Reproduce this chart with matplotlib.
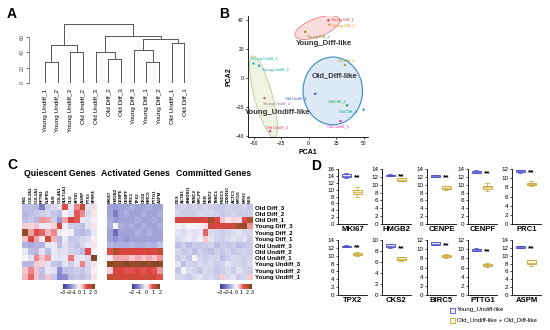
import matplotlib
matplotlib.use("Agg")
import matplotlib.pyplot as plt
import numpy as np
from matplotlib.colors import LinearSegmentedColormap
from matplotlib.patches import Ellipse, Rectangle

plt.rcParams["font.family"] = ["Liberation Sans", "DejaVu Sans"]

W, H = 550, 330

# ---------------- data ----------------
LEAVES = ["Young Undiff_1", "Young Undiff_2", "Young Undiff_3", "Old Undiff_2",
          "Old Undiff_3", "Old Diff_2", "Old Diff_3", "Young Diff_3",
          "Young Diff_1", "Young Diff_2", "Old Undiff_1", "Old Diff_1"]
# (child a, child b, height); ids >= 12 are earlier merges
MERGES = [(0, 1, 28), (2, 3, 41), (12, 13, 50), (5, 6, 31), (4, 15, 40),
          (8, 9, 28), (7, 17, 43), (10, 11, 53), (18, 19, 58), (16, 20, 62),
          (14, 21, 78)]

PCA_NAMES = ["Young Diff_1", "Young Diff_2", "Young Diff_3", "Young Undiff_1",
             "Young Undiff_2", "Young Undiff_3", "Old Undiff_2", "Old Undiff_1",
             "Old Diff_1", "Old Diff_2", "Old Diff_3", "Old Undiff_3"]
PCA1 = [18, 19, -3, -50, -45, -40, -35, 6, 33, 35, 50, 29]
PCA2 = [40, 37, 32, 10, 8.5, -14, -37, -11, 9, -19, -22, -30]
PCA_COLORS = ["#e03030", "#e88a20", "#7f8a20", "#10b8b0", "#10a0c8", "#a07088",
              "#d84060", "#3a64c0", "#a8a030", "#20a048", "#10a890", "#d838a8"]
LABEL_OFFSETS = [(2, 0), (2, -1), (1, -4), (-2, 3), (2, -3), (-1, -4),
                 (-3, 3), (-22, -3), (-6, 3), (-14, 3), (-18, -1), (-10, -4)]

ROWS = ["Old Diff_3", "Old Diff_2", "Old Diff_1", "Young Diff_3", "Young Diff_2",
        "Young Diff_1", "Old Undiff_3", "Old Undiff_2", "Old Undiff_1",
        "Young Undiff_3", "Young Undiff_2", "Young Undiff_1"]
QUIESCENT = ["FN1", "COL3A1", "COL1A1", "RPTN1", "NUPR1", "ELN", "COL4A1",
             "SULT1A1", "CLU", "APOD", "AGRP", "PTX3", "SFRP4"]
ACTIVATED = ["MKI67", "HMGB2", "CENPE", "CENPF", "PRC1", "TPX2", "CKS2",
             "BIRC5", "PTTG1", "ASPM"]
COMMITTED = ["DES", "ACTA1", "ANKRD1", "TNNC2", "MYLPF", "NEB", "TNNT2",
             "TNNC1", "FNDC5", "CDKN1C", "ACTC1", "MYOG", "MYH3", "NES"]

Q_VALS = np.array([
    [-0.8, -0.8, -0.9, -1.8, -0.6, -0.4, -0.2, 1.4, -0.2, 1.0, 2.0, -0.3, 0.3],
    [-0.9, -0.8, -0.7, -0.6, -0.5, -0.7, -0.8, 0.0, -0.3, 1.3, 1.0, -0.4, 0.2],
    [-0.8, -0.7, -0.9, 0.9, 0.8, -0.6, -1.3, 0.8, 1.6, 1.3, -0.2, -0.3, 0.1],
    [0.5, 0.4, 0.6, -0.2, 0.2, 0.4, 1.8, -0.1, -0.6, -0.7, -0.8, -0.3, 0.2],
    [2.6, 0.8, 1.4, 1.2, 0.7, 1.0, -0.2, 0.0, -0.1, -0.8, -0.9, -0.7, -0.2],
    [0.6, 1.6, 0.8, 0.1, 1.8, 0.7, -0.9, -0.2, -0.7, -0.6, -0.5, -0.4, 0.1],
    [-1.0, -1.1, -0.9, -1.0, -0.3, -0.2, -0.8, -0.3, -0.6, -0.7, -0.4, -0.2, 0.2],
    [-0.2, -0.8, -0.9, -0.3, -0.8, -0.2, -0.4, -0.3, -0.5, -0.6, -0.8, 1.4, 0.0],
    [0.0, -0.3, 1.0, 0.6, 0.9, -0.2, -0.3, -0.2, 1.1, -0.3, -0.2, -0.4, 2.8],
    [-0.9, -0.9, 0.5, 0.4, -0.3, -0.7, -0.8, -0.3, -0.6, -0.3, 1.0, -0.4, 0.2],
    [0.6, 1.0, 0.6, -0.8, -0.2, -0.3, -1.5, -0.8, -0.7, -0.6, -0.7, -0.5, 0.1],
    [0.7, 1.2, 0.6, -0.8, 0.6, -0.7, -1.6, -1.5, -0.8, -0.7, -0.8, -0.6, 0.2],
])
A_VALS = np.array([
    [-0.8, -0.9, -0.8, -0.8, -0.7, -0.8, -0.8, -0.7, -0.8, -0.8],
    [-0.8, -1.2, -0.8, -0.7, -0.8, -0.8, -0.7, -0.8, -0.8, -0.7],
    [-0.7, -0.9, -0.8, -0.8, -0.8, -0.7, -0.8, -0.8, -0.7, -0.8],
    [-0.7, 0.0, -0.7, -0.8, -0.7, -0.8, -0.7, -0.8, -0.8, -0.7],
    [-0.8, -1.4, -0.8, -0.8, -0.8, -0.7, -0.8, -0.7, -0.8, -0.8],
    [-0.8, -1.0, -0.8, -0.9, -0.8, -0.8, -0.8, -0.8, -0.8, -0.8],
    [-0.6, -0.7, -0.7, -0.7, -0.6, -0.7, -0.7, -0.6, -0.7, -0.5],
    [0.9, 1.5, 1.1, 1.0, 1.1, 1.0, 1.0, 1.1, 1.0, 1.3],
    [0.1, 0.5, 0.5, 0.5, 0.4, 0.5, 0.4, 0.5, 0.4, 0.6],
    [1.8, 1.7, 1.7, 1.8, 1.7, 1.7, 1.8, 1.7, 1.8, 1.8],
    [0.3, 1.0, 1.0, 0.9, 0.9, 1.0, 0.9, 1.0, 0.9, 0.6],
    [1.3, 1.2, 1.1, 1.1, 1.2, 1.1, 1.1, 1.2, 1.1, 0.9],
])
C_VALS = np.array([
    [-0.6, -0.5, -0.6, -0.5, -0.6, -0.5, -0.6, -0.7, -0.7, -0.5, -0.6, -0.6, -0.5, -0.7],
    [-0.5, -0.6, -0.6, -0.6, -0.5, -0.5, -0.5, -0.6, -0.7, -0.6, -0.5, -0.6, -0.6, -0.6],
    [1.6, 1.7, 1.7, 1.6, 1.7, 1.6, 2.4, 1.5, 0.6, 0.2, 0.4, 0.3, 1.4, 2.2],
    [-0.1, -0.2, 0.0, 0.0, -0.1, 0.3, 1.8, 1.6, 1.7, 1.7, 1.7, 2.4, 2.5, 0.9],
    [-0.3, -0.4, -0.2, -0.3, -0.2, 1.2, -0.4, -0.5, -0.6, -0.5, -0.4, -0.3, -0.4, -0.5],
    [-0.4, -0.3, -0.2, -0.3, -0.1, 0.6, -0.3, -0.5, -0.6, -0.4, -0.3, -0.4, -0.3, -0.6],
    [-0.8, -0.6, -0.8, -0.6, -0.7, -0.6, -0.5, -0.8, -0.6, -0.7, -0.6, -0.8, -0.7, -0.6],
    [-0.5, -0.7, -0.6, -0.8, -0.6, -0.7, -0.8, -0.6, -0.7, -0.5, -0.7, -0.6, -0.5, -0.6],
    [-0.6, -0.4, -0.7, 0.0, -0.5, -0.6, -0.5, -0.5, -0.8, -0.6, -0.4, -0.5, -0.6, -0.5],
    [-0.3, -0.8, -0.5, -0.6, -0.4, -0.5, -0.4, -0.6, -0.5, -0.3, -0.4, -0.5, -0.6, -0.4],
    [-0.7, 0.0, -0.4, -0.5, -0.7, -0.4, -0.5, -0.7, -0.6, -0.4, -0.6, -0.3, -0.5, -0.6],
    [-0.4, -0.5, -0.6, -0.4, -0.3, -0.5, -0.4, -0.6, 0.5, -0.4, -0.3, -0.6, -0.5, 0.5],
])

BOX_GENES = ["MKI67", "HMGB2", "CENPE", "CENPF", "PRC1",
             "TPX2", "CKS2", "BIRC5", "PTTG1", "ASPM"]
BOX_YMAX = [16, 14, 14, 14, 12, 14, 10, 12, 12, 14]
# whislo, q1, med, q3, whishi
YOUNG = [(13.3, 13.6, 14.0, 14.6, 14.9), (12.2, 12.3, 12.4, 12.6, 12.7),
         (11.9, 12.0, 12.2, 12.4, 12.5), (12.9, 13.0, 13.3, 13.6, 13.7),
         (11.2, 11.3, 11.5, 11.7, 11.8), (12.1, 12.2, 12.4, 12.6, 12.7),
         (8.6, 8.7, 8.9, 9.2, 9.3), (10.9, 11.0, 11.2, 11.5, 11.6),
         (9.5, 9.6, 9.8, 10.1, 10.2), (11.9, 12.0, 12.2, 12.4, 12.5)]
OLD = [(8.0, 8.6, 9.3, 10.0, 10.8), (10.9, 11.0, 11.3, 11.6, 11.7),
       (8.6, 8.8, 9.2, 9.6, 9.8), (8.4, 8.9, 9.3, 9.8, 10.4),
       (8.2, 8.5, 8.8, 9.0, 9.3), (9.9, 10.1, 10.4, 10.7, 10.9),
       (6.2, 6.4, 6.6, 6.9, 7.0), (8.1, 8.3, 8.5, 8.8, 8.9),
       (6.2, 6.4, 6.6, 6.8, 6.9), (7.5, 7.8, 8.2, 8.8, 9.0)]

BLUE, GOLD = "#4848c8", "#c8a030"


def rect(x0, y0, x1, y1):
    """pixel box (top-left origin) -> figure fraction rect"""
    return [x0 / W, 1 - y1 / H, (x1 - x0) / W, (y1 - y0) / H]


fig = plt.figure(figsize=(5.5, 3.3), dpi=100)
fig.patch.set_facecolor("white")

for lab, (px, py) in zip("ABCD", [(12, 14), (224, 14), (12, 165), (316, 166)]):
    fig.text(px / W, 1 - py / H, lab, fontsize=10, fontweight="bold",
             ha="center", va="center")

# ---------------- A: dendrogram ----------------
axA = fig.add_axes(rect(33, 22, 192, 83))
for s in ["top", "right", "bottom"]:
    axA.spines[s].set_visible(False)
axA.spines["left"].set_position(("outward", 3))
axA.spines["left"].set_bounds(0, 60)
axA.spines["left"].set_linewidth(0.5)
axA.spines["left"].set_color("#666666")
xs = {i: float(i) for i in range(len(LEAVES))}
hs = {i: 0.0 for i in range(len(LEAVES))}
for k, (a, b, h) in enumerate(MERGES):
    nid = len(LEAVES) + k
    for c in (a, b):
        axA.plot([xs[c], xs[c]], [hs[c], h], color="#555555", lw=0.7)
    axA.plot([xs[a], xs[b]], [h, h], color="#555555", lw=0.7)
    xs[nid] = (xs[a] + xs[b]) / 2
    hs[nid] = h
axA.set_xlim(-0.95, 11.6)
axA.set_ylim(0, 80)
axA.set_xticks(range(len(LEAVES)))
axA.set_xticklabels(LEAVES)
axA.tick_params(axis="x", length=0, pad=4, labelsize=4.6, labelrotation=90)
axA.set_yticks([0, 20, 40, 60])
axA.tick_params(axis="y", length=2, width=0.5, pad=1, labelsize=3.8,
                labelrotation=90, colors="#444444")
for t in axA.get_yticklabels():
    t.set_va("center")

# ---------------- B: PCA ----------------
axB = fig.add_axes(rect(248, 16, 368, 137))
axB.add_patch(Ellipse((8, 35), 42, 13, angle=15, facecolor="#f9dada",
                      edgecolor="#e07a7a", lw=0.6, alpha=0.9))
axB.add_patch(Ellipse((-41, -13), 16, 60, angle=20, facecolor="#eef3e2",
                      edgecolor="#b8cc90", lw=0.6))
axB.add_patch(Ellipse((22, -9), 54, 47, facecolor="#dde9f7",
                      edgecolor="#3a8cc0", lw=0.8))
axB.scatter(PCA1, PCA2, c=PCA_COLORS, s=3, zorder=3, linewidths=0)
for name, x, y, c, (dx, dy) in zip(PCA_NAMES, PCA1, PCA2, PCA_COLORS, LABEL_OFFSETS):
    axB.annotate(name, (x, y), xytext=(dx, dy), textcoords="offset points",
                 fontsize=2.9, color=c, va="center", ha="left")
axB.text(14, 24, "Young_Diff-like", fontsize=5.6, fontweight="bold", ha="center",
         va="center", color="#333333")
axB.text(24, 1.5, "Old_Diff-like", fontsize=5.6, fontweight="bold", ha="center",
         va="center", color="#333333")
axB.text(-28, -24, "Young_Undiff-like", fontsize=5.6, fontweight="bold",
         ha="center", va="center", color="#333333")
axB.set_xlim(-55, 54)
axB.set_ylim(-41, 43)
axB.set_xticks([-50, -25, 0, 25, 50])
axB.set_yticks([-40, -20, 0, 20, 40])
axB.tick_params(labelsize=3.5, length=1.5, width=0.5, pad=1.5)
axB.spines[["top", "right"]].set_visible(False)
for s in ["left", "bottom"]:
    axB.spines[s].set_linewidth(0.6)
axB.set_xlabel("PCA1", fontsize=5, fontweight="bold", labelpad=2)
axB.set_ylabel("PCA2", fontsize=5, fontweight="bold", labelpad=2)

# ---------------- C: heatmaps ----------------
cmap = LinearSegmentedColormap.from_list("hm", [
    (0.0, "#3a3a98"), (0.25, "#8e8ed2"), (0.42, "#d6d6ee"), (0.5, "#f8f5f9"),
    (0.6, "#f6c4cc"), (0.74, "#e04444"), (0.86, "#b85030"), (1.0, "#6e4420")])

heat = [
    ("Quiescent Genes", QUIESCENT, Q_VALS, 3, (22, 97), (63, 95)),
    ("Activated Genes", ACTIVATED, A_VALS, 2, (107, 163), (132, 160)),
    ("Committed Genes", COMMITTED, C_VALS, 3, (175, 253), (220, 252)),
]
for title, genes, vals, lim, (hx0, hx1), (cx0, cx1) in heat:
    ax = fig.add_axes(rect(hx0, 204, hx1, 280))
    im = ax.imshow(vals, cmap=cmap, vmin=-lim, vmax=lim, aspect="auto",
                   interpolation="nearest")
    ax.set_xticks(range(len(genes)))
    ax.set_xticklabels(genes, fontweight="bold")
    ax.xaxis.tick_top()
    ax.tick_params(axis="x", length=0, pad=1, labelsize=3.1, labelrotation=90)
    ax.set_yticks([])
    for s in ax.spines.values():
        s.set_visible(False)
    if title == "Committed Genes":
        ax.yaxis.tick_right()
        ax.set_yticks(range(len(ROWS)))
        ax.set_yticklabels(ROWS, fontweight="bold")
        ax.tick_params(axis="y", length=0, pad=1.5, labelsize=4.4)
    fig.text((hx0 + hx1) / 2 / W, 1 - 173 / H, title, fontsize=6.3,
             fontweight="bold", ha="center", va="center")
    cax = fig.add_axes(rect(cx0, 284, cx1, 289))
    cb = fig.colorbar(im, cax=cax, orientation="horizontal")
    cb.set_ticks(list(range(-lim, lim + 1)))
    cb.ax.tick_params(labelsize=3.8, length=0, pad=1)
    cb.outline.set_visible(False)

# ---------------- D: box plots ----------------
xcols = [338, 382, 427, 468, 512]
rows_y = [(169, 224), (240, 295)]
for i, gene in enumerate(BOX_GENES):
    r, c = divmod(i, 5)
    y0, y1 = rows_y[r]
    ax = fig.add_axes(rect(xcols[c], y0, xcols[c] + 29, y1))
    stats = []
    for lab, v in (("young", YOUNG[i]), ("old", OLD[i])):
        stats.append(dict(whislo=v[0], q1=v[1], med=v[2], q3=v[3], whishi=v[4],
                          label=lab))
    bp = ax.bxp(stats, positions=[1, 2], widths=0.8, patch_artist=True,
                showfliers=False)
    cols = [BLUE, GOLD]
    for k, (patch, fc) in enumerate(zip(bp["boxes"], ["#e4e4f8", "#fdf4cc"])):
        patch.set_facecolor(fc)
        patch.set_edgecolor(cols[k])
        patch.set_linewidth(0.6)
        bp["medians"][k].set_color(cols[k])
        bp["medians"][k].set_linewidth(0.5)
        for ln in bp["whiskers"][2 * k:2 * k + 2] + bp["caps"][2 * k:2 * k + 2]:
            ln.set_color(cols[k])
            ln.set_linewidth(0.5)
    ax.text(2.0, YOUNG[i][2] - 0.4, "**", fontsize=6, fontweight="bold",
            ha="center", va="center")
    ax.set_xlim(0.25, 2.9)
    ax.set_ylim(0, BOX_YMAX[i])
    ax.set_yticks(range(0, BOX_YMAX[i] + 1, 2))
    ax.tick_params(axis="y", labelsize=4.5, length=1.5, width=0.5, pad=1)
    ax.set_xticks([])
    ax.spines[["top", "right"]].set_visible(False)
    for s in ["left", "bottom"]:
        ax.spines[s].set_linewidth(0.6)
    ax.set_xlabel(gene, fontsize=5.6, fontweight="bold", labelpad=1.5)

# legend for panel D
for k, (lab, ec, fc) in enumerate([("Young_Undiff-like", BLUE, "#f4f4fc"),
                                    ("Old_Undiff-like + Old_Diff-like", GOLD, "#fdf8e0")]):
    yy = 310 + 10 * k
    fig.patches.append(Rectangle((450 / W, 1 - (yy + 2.5) / H), 5 / W, 5 / H,
                                 transform=fig.transFigure, facecolor=fc,
                                 edgecolor=ec, lw=0.6))
    fig.text(457 / W, 1 - yy / H, lab, fontsize=4.4, ha="left", va="center")

fig.savefig("out.png", dpi=100)
